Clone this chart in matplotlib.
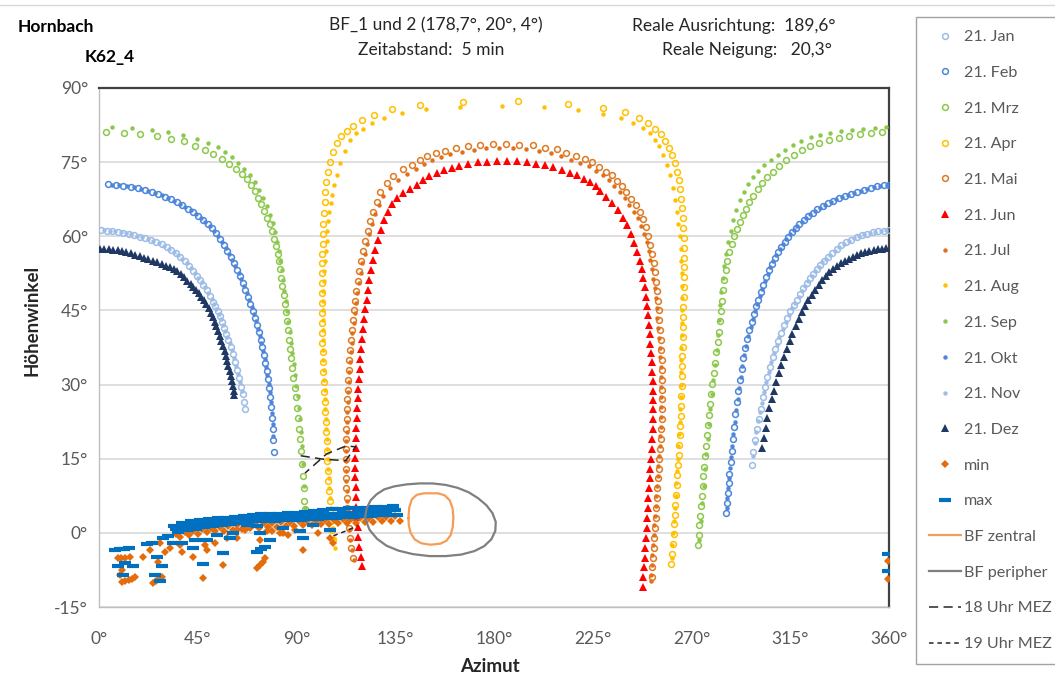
import matplotlib.pyplot as plt
from matplotlib.lines import Line2D
import numpy as np

plt.rcParams['font.family'] = ['Lato', 'DejaVu Sans']

# ---- sun path points (azimut, hoehenwinkel) ----
jan = [(1, 61.2), (3.5, 61.1), (6, 61.0), (8.5, 60.9), (11, 60.7), (13.5, 60.5), (16, 60.2), (18.5, 59.9),
       (21, 59.6), (23.5, 59.2), (26, 58.8), (28.5, 58.4), (31, 57.8), (33, 57.2), (35, 56.6), (37, 55.8),
       (39, 55.0), (41, 54.0), (43, 52.9), (44.5, 52.0), (46, 51.1), (47.5, 50.2), (49, 49.1), (50.5, 48.0),
       (52, 46.7), (53, 45.8), (54, 44.8), (55, 43.8), (56, 42.7), (57, 41.5), (58, 40.3), (59, 39.0),
       (60, 37.7), (61, 36.2), (62, 34.6), (63, 33.0), (64, 31.3), (64.8, 29.6), (65.5, 28.0), (66.2, 26.4),
       (66.7, 25.0),
       (297.4, 13.8), (298.2, 16.3), (299, 18.8), (299.8, 21.0), (300.6, 23.1), (301.5, 25.1), (302.5, 27.4),
       (303.5, 29.5), (304.6, 31.6), (305.8, 33.6), (307, 35.5), (308.2, 37.2), (309.5, 38.9), (310.8, 40.5),
       (312.2, 42.0), (313.6, 43.4), (315, 44.8), (316.5, 46.0), (318, 47.2), (319.5, 48.4), (321, 49.5),
       (322.5, 50.5), (324, 51.5), (325.5, 52.4), (327, 53.3), (328.7, 54.2), (330.5, 55.1), (332.3, 55.9),
       (334.2, 56.7), (336.2, 57.5), (338.3, 58.2), (340.5, 58.8), (342.8, 59.3), (345.2, 59.8), (347.6, 60.2),
       (350, 60.5), (352.5, 60.8), (355, 61.0), (357.5, 61.1), (360, 61.2)]

feb = [(4.2, 70.5), (7.6, 70.4), (11, 70.2), (14.4, 70.0), (17.7, 69.7), (20.9, 69.4), (24, 69.0), (27, 68.5),
       (29.9, 68.0), (32.7, 67.5), (35.4, 66.9), (38, 66.3), (40.5, 65.6), (42.9, 64.9), (45.2, 64.1),
       (47.4, 63.3), (49.5, 62.5), (51.5, 61.6), (53.4, 60.6), (55.2, 59.5), (56.9, 58.3), (58.5, 57.1),
       (60, 55.8), (61.5, 54.5), (62.9, 53.2), (64.2, 51.9), (65.5, 50.6), (66.7, 49.2), (67.9, 47.8),
       (69, 46.3), (70, 44.9), (71, 43.5), (71.9, 42.1), (72.8, 40.6), (73.6, 39.1), (74.4, 37.6), (75.1, 36.0),
       (75.8, 34.4), (76.4, 32.8), (77, 31.1), (77.5, 29.4), (78, 27.5), (78.4, 25.4), (78.8, 23.2),
       (79.1, 21.0), (79.4, 18.7), (79.7, 16.3),
       (285.7, 4.0), (286.1, 6.0), (286.5, 8.0), (286.9, 10.0), (287.3, 12.0), (287.8, 14.3), (288.3, 16.6),
       (288.8, 19.0), (289.4, 21.5), (290, 24.0), (290.6, 26.5), (291.3, 28.8), (292, 31.0), (292.8, 33.2),
       (293.6, 35.3), (294.5, 37.3), (295.4, 39.2), (296.4, 41.0), (297.4, 42.7), (298.4, 44.3), (299.4, 45.8),
       (300.5, 47.2), (301.6, 48.7), (302.8, 50.2), (304, 51.7), (305.3, 53.1), (306.6, 54.4), (308, 55.7),
       (309.4, 56.8), (310.9, 57.9), (312.4, 58.9), (314, 59.9), (315.7, 60.8), (317.4, 61.7), (319.2, 62.5),
       (321.1, 63.3), (323.1, 64.1), (325.2, 64.8), (327.4, 65.5), (329.7, 66.1), (332.1, 66.7), (334.6, 67.2),
       (337.2, 67.7), (339.9, 68.2), (342.7, 68.6), (345.6, 69.0), (348.6, 69.4), (351.6, 69.8), (354.6, 70.1),
       (357.6, 70.3), (360, 70.4)]

mrz = [(3.2, 81.0), (11.4, 80.9), (18.7, 80.7), (26.3, 80.3), (32.7, 79.7), (38.7, 79.2), (43.7, 78.3),
       (48.3, 77.5), (52.1, 76.7), (55.9, 75.6), (59.4, 74.7), (62.4, 73.6), (65, 72.6), (67.3, 71.5),
       (69.2, 70.3), (70.9, 69.1), (72.5, 67.8), (74, 66.5), (75.4, 65.2), (76.7, 63.8), (77.9, 62.4),
       (79, 61.0), (79.9, 59.5), (80.7, 58.0), (81.4, 56.5), (82, 55.0), (82.6, 53.3), (83.1, 51.6),
       (83.6, 49.9), (84.1, 48.2), (84.6, 46.4), (85.1, 44.6), (85.6, 42.8), (86.1, 41.0), (86.6, 39.1),
       (87.1, 37.2), (87.6, 35.3), (88.1, 33.4), (88.6, 31.4), (89.1, 29.4), (89.6, 27.4), (90.1, 25.3),
       (90.6, 23.2), (91.1, 21.1), (91.6, 19.0), (92, 16.5), (92.4, 14.0), (92.8, 11.5), (93.2, 9.0),
       (93.6, 6.5), (93.9, 4.8),
       (272.8, -2.4), (273.2, -0.5), (273.6, 1.5), (274.0, 3.5), (274.4, 5.5), (274.8, 7.5), (275.1, 9.5),
       (275.4, 11.5), (275.7, 13.4), (276.1, 15.5), (276.5, 17.6), (276.9, 19.7), (277.4, 21.8), (277.9, 23.9),
       (278.4, 26.0), (278.9, 28.1), (279.5, 30.2), (280.1, 32.3), (280.7, 34.4), (281.3, 36.5), (281.9, 38.6),
       (282.4, 40.7), (282.9, 42.8), (283.4, 44.9), (283.8, 47.0), (284.3, 49.2), (284.9, 51.2), (285.6, 53.2),
       (286.4, 55.0), (287.3, 56.8), (288.3, 58.4), (289.4, 60.0), (290.6, 61.5), (291.9, 62.9), (293.3, 64.3),
       (294.8, 65.6), (296.4, 66.9), (298.2, 68.2), (300.2, 69.5), (302.3, 70.7), (304.6, 71.9), (307.2, 73.1),
       (310, 74.3), (313.1, 75.4), (316.5, 76.5), (320.2, 77.5), (324.1, 78.3), (328.2, 78.9), (332.6, 79.4),
       (337.2, 79.8), (342, 80.2), (347, 80.6), (352, 80.9), (357, 81.1)]

apr = [(106.6, -1.5), (106.2, 0.5), (105.8, 2.5), (105.4, 4.5), (105.1, 6.5), (104.8, 8.5), (104.5, 10.5),
       (104.3, 12.5), (104.1, 14.5), (103.9, 16.5), (103.7, 18.5), (103.5, 20.5), (103.3, 22.5), (103.1, 24.5),
       (102.9, 26.5), (102.7, 28.5), (102.5, 30.5), (102.3, 32.5), (102.1, 34.5), (101.9, 36.5), (101.8, 38.5),
       (101.7, 40.5), (101.6, 42.5), (101.5, 44.5), (101.5, 46.5), (101.5, 48.5), (101.5, 50.5), (101.6, 52.5),
       (101.7, 54.5), (101.8, 56.5), (101.9, 58.5), (102.1, 60.5), (102.3, 62.5), (102.6, 64.8), (102.8, 67.0),
       (103.0, 69.0), (103.5, 71.0), (104.2, 73.0), (105.2, 75.0), (106.6, 77.0), (108.4, 78.8), (110.5, 80.2),
       (112.9, 81.3), (115.9, 82.4), (119.7, 83.6), (125.3, 84.6), (133.7, 85.7), (146.3, 86.6), (165.7, 87.1),
       (191.1, 87.3), (213.9, 86.8), (229.8, 86.0), (239.7, 85.1), (246.1, 84.0), (250.3, 82.9), (253.4, 81.8),
       (256.0, 80.6), (258.1, 79.3), (259.8, 77.9), (261.2, 76.4), (262.4, 74.8), (263.4, 73.1), (264.2, 71.3),
       (264.8, 69.5), (265.3, 67.6), (265.7, 65.7), (266.0, 63.7), (266.2, 61.7), (266.4, 59.7), (266.5, 57.7),
       (266.6, 55.7), (266.6, 53.7), (266.6, 51.7), (266.5, 49.7), (266.4, 47.7), (266.3, 45.7), (266.2, 43.7),
       (266.1, 41.7), (266.0, 39.7), (265.9, 37.7), (265.8, 35.7), (265.7, 33.7), (265.6, 31.7), (265.5, 29.7),
       (265.4, 27.7), (265.3, 25.7), (265.1, 23.7), (264.9, 21.7), (264.7, 19.7), (264.5, 17.7), (264.2, 15.7),
       (263.9, 13.7), (263.6, 11.7), (263.3, 9.7), (263.0, 7.7), (262.7, 5.7), (262.4, 3.7), (262.1, 1.7),
       (261.8, -0.3), (261.4, -2.3), (261.0, -4.3), (260.6, -6.3)]

mai = [(115.6, -5.0), (115.0, -3.0), (114.4, -1.0), (113.9, 1.0), (113.5, 3.0), (113.2, 5.0), (112.9, 7.0),
       (112.7, 9.0), (112.6, 11.0), (112.5, 13.0), (112.5, 15.0), (112.5, 17.0), (112.6, 19.0), (112.7, 21.0),
       (112.8, 23.0), (112.9, 25.0), (113.1, 27.0), (113.3, 29.0), (113.5, 31.0), (113.8, 33.0), (114.1, 35.0),
       (114.4, 37.0), (114.8, 39.0), (115.2, 41.0), (115.6, 43.0), (116.1, 45.0), (116.7, 47.0), (117.3, 49.0),
       (118.0, 51.0), (118.7, 53.0), (119.5, 55.0), (120.4, 57.0), (121.4, 59.0), (122.5, 61.0), (123.7, 63.0),
       (125.0, 65.0), (126.5, 67.0), (128, 68.9), (131.1, 70.7), (134.1, 72.1), (138.7, 73.6), (142.5, 74.4),
       (146.3, 75.5), (149.6, 76.3), (153.6, 76.8), (157.7, 77.3), (162.7, 77.9), (168, 78.2), (173.6, 78.5),
       (179.4, 78.7), (185.3, 78.7), (191.5, 78.5), (197.6, 78.5), (203.2, 77.9), (208.6, 77.6), (212.8, 76.8),
       (217.4, 76.3), (221.5, 75.7), (224.8, 75.1), (228, 74.1), (231, 73.1), (233.6, 72.3), (235.9, 71.1),
       (238.2, 70.1), (240.2, 68.9), (242.6, 67.6), (244.7, 66.3), (246.5, 64.9), (248.0, 63.4), (249.3, 61.8),
       (250.4, 60.1), (251.3, 58.3), (252.0, 56.5), (252.7, 54.6), (253.3, 52.7), (253.8, 50.8), (254.3, 48.9),
       (254.7, 47.0), (255.1, 45.0), (255.4, 43.0), (255.7, 41.0), (256.0, 39.0), (256.2, 37.0), (256.4, 35.0),
       (256.5, 33.0), (256.6, 31.0), (256.6, 29.0), (256.6, 27.0), (256.5, 25.0), (256.4, 23.0), (256.2, 21.0),
       (256.0, 19.0), (255.7, 17.0), (255.4, 15.0), (255.1, 13.0), (254.8, 11.0), (254.5, 9.0), (254.2, 7.0),
       (253.9, 5.0), (253.6, 3.0), (253.3, 1.0), (253.0, -1.0), (252.7, -3.0), (252.4, -5.0), (252.1, -7.0),
       (251.8, -9.0)]

jun = [(119.7, -6.8), (119.2, -4.8), (118.7, -2.8), (118.2, -0.8), (117.8, 1.2), (117.5, 3.2), (117.2, 5.2),
       (117.0, 7.2), (116.9, 9.2), (116.8, 11.2), (116.8, 13.2), (116.8, 15.2), (116.9, 17.2), (117.0, 19.2),
       (117.2, 21.2), (117.4, 23.2), (117.6, 25.2), (117.9, 27.2), (118.2, 29.2), (118.5, 31.2), (118.8, 33.2),
       (119.1, 35.2), (119.5, 37.2), (119.9, 39.2), (120.3, 41.2), (120.8, 43.2), (121.3, 45.2), (121.9, 47.2),
       (122.5, 49.2), (123.2, 51.2), (124.0, 53.2), (124.9, 55.2), (125.9, 57.2), (127.0, 59.2), (128.3, 61.2),
       (129.8, 63.2), (131.5, 65.0), (133.4, 66.6), (135.8, 67.8), (138.7, 68.7), (141.7, 69.6), (144.8, 70.4),
       (147.5, 71.3), (150.5, 72.1), (153.9, 72.8), (157.2, 73.4), (160.7, 73.9), (164.2, 74.3), (168.3, 74.6),
       (172.6, 75.0), (177.0, 75.1), (181.5, 75.3), (186.1, 75.3), (190.3, 75.3), (194.9, 75.0), (199.1, 74.7),
       (203.2, 74.4), (207.0, 74.0), (210.8, 73.4), (214.6, 72.9), (217.7, 72.3), (221.0, 71.6), (223.7, 70.9),
       (226.5, 70.1), (228.3, 69.2), (231.2, 68.0), (233.9, 66.7), (236.4, 65.3), (238.7, 63.8), (240.7, 62.2),
       (242.5, 60.5), (244.0, 58.7), (245.3, 56.9), (246.4, 55.1), (247.3, 53.3), (248.0, 51.5), (248.6, 49.7),
       (249.2, 47.8), (249.7, 45.9), (250.2, 44.0), (250.6, 42.1), (251.0, 40.2), (251.3, 38.3), (251.6, 36.4),
       (251.9, 34.5), (252.1, 32.6), (252.3, 30.7), (252.4, 28.8), (252.5, 26.9), (252.5, 25.0), (252.4, 23.0),
       (252.3, 21.0), (252.1, 19.0), (251.9, 17.0), (251.6, 15.0), (251.3, 13.0), (251.0, 11.0), (250.7, 9.0),
       (250.4, 7.0), (250.1, 5.0), (249.8, 3.0), (249.5, 1.0), (249.2, -1.0), (248.9, -3.0), (248.6, -5.0),
       (248.3, -7.0), (248.0, -9.0), (247.8, -10.9)]

jul = [(116.0, -5.5), (115.2, -3.5), (114.6, -1.5), (114.1, 0.5), (113.6, 2.5), (113.3, 4.5), (113.0, 6.5),
       (112.8, 8.5), (112.7, 10.5), (112.6, 12.5), (112.6, 14.5), (112.6, 16.5), (112.7, 18.5), (112.8, 20.5),
       (112.9, 22.5), (113.1, 24.5), (113.3, 26.5), (113.5, 28.5), (113.8, 30.5), (114.1, 32.5), (114.4, 34.5),
       (114.7, 36.5), (115.1, 38.5), (115.5, 40.5), (116.0, 42.5), (116.5, 44.5), (117.1, 46.5), (117.7, 48.5),
       (118.4, 50.5), (119.2, 52.5), (120.0, 54.5), (121.0, 56.5), (122.0, 58.5), (123.1, 60.5), (124.4, 62.5),
       (125.8, 64.5), (127.4, 66.4), (129.5, 68.2), (132.4, 69.8), (136.2, 71.4), (140.5, 72.6), (144.4, 73.6),
       (148.1, 74.6), (151.8, 75.4), (155.7, 76.0), (160.1, 76.6), (165.2, 77.1), (170.7, 77.5), (176.5, 77.8),
       (182.4, 77.9), (188.5, 77.9), (194.5, 77.7), (200.4, 77.3), (205.8, 76.8), (210.7, 76.2), (215.1, 75.5),
       (219.4, 74.9), (223.2, 74.2), (226.4, 73.3), (229.5, 72.3), (232.3, 71.3), (234.8, 70.2), (237.2, 69.0),
       (239.5, 67.7), (241.7, 66.4), (243.8, 65.0), (245.6, 63.6), (247.2, 62.1), (248.5, 60.5), (249.6, 58.8),
       (250.5, 57.0), (251.3, 55.2), (252.0, 53.3), (252.6, 51.4), (253.2, 49.5), (253.7, 47.5), (254.1, 45.5),
       (254.5, 43.5), (254.9, 41.5), (255.2, 39.5), (255.5, 37.5), (255.7, 35.5), (255.9, 33.5), (256.0, 31.5),
       (256.1, 29.5), (256.1, 27.5), (256.1, 25.5), (256.0, 23.5), (255.9, 21.5), (255.7, 19.5), (255.5, 17.5),
       (255.2, 15.5), (254.9, 13.5), (254.6, 11.5), (254.3, 9.5), (254.0, 7.5), (253.7, 5.5), (253.4, 3.5),
       (253.1, 1.5), (252.8, -0.5), (252.5, -2.5), (252.2, -4.5), (251.9, -6.5), (251.6, -8.5), (251.4, -9.8)]

aug = [(107.5, -3.0), (107.0, -1.0), (106.5, 1.0), (106.0, 3.0), (105.6, 5.0), (105.2, 7.0), (104.9, 9.0),
       (104.6, 11.0), (104.4, 13.0), (104.2, 15.0), (104.0, 17.0), (103.8, 19.0), (103.6, 21.0), (103.4, 23.0),
       (103.2, 25.0), (103.0, 27.0), (102.8, 29.0), (102.6, 31.0), (102.4, 33.0), (102.3, 35.0), (102.2, 37.0),
       (102.1, 39.0), (102.1, 41.0), (102.1, 43.0), (102.1, 45.0), (102.2, 47.0), (102.3, 49.0), (102.5, 51.0),
       (102.7, 53.0), (103.0, 55.0), (103.3, 57.0), (103.7, 59.0), (104.1, 61.0), (104.5, 63.0), (105.0, 65.0),
       (105.5, 66.7), (106.0, 68.4), (107.1, 70.4), (108.3, 72.4), (109.8, 74.8), (111.9, 77.2), (114.4, 79.5),
       (117.3, 80.8), (120.4, 81.7), (124.5, 82.9), (130.0, 83.9), (137.9, 84.9), (149.0, 85.7), (164.5, 86.2),
       (183.5, 86.4), (202.8, 86.2), (218.4, 85.6), (229.5, 84.8), (237.7, 83.9), (243.5, 82.9), (247.8, 81.9),
       (251.1, 80.9), (253.4, 79.5), (255.3, 78.2), (257.2, 76.5), (258.7, 74.4), (260.2, 72.4), (261.4, 69.7),
       (262.4, 67.4), (263.3, 65.0), (264.0, 62.5), (264.6, 60.0), (265.1, 57.5), (265.4, 55.0), (265.6, 52.5),
       (265.7, 50.0), (265.7, 47.5), (265.7, 45.0), (265.6, 42.5), (265.5, 40.0), (265.4, 37.5), (265.3, 35.0),
       (265.2, 32.5), (265.1, 30.0), (265.0, 27.5), (264.8, 25.0), (264.6, 22.5), (264.3, 20.0), (264.0, 17.5),
       (263.7, 15.0), (263.4, 12.5), (263.1, 10.0), (262.8, 7.5), (262.5, 5.0), (262.1, 2.5), (261.7, 0.0),
       (261.3, -2.5), (260.9, -5.0)]

sep = [(6.1, 82.1), (15.2, 81.9), (24, 81.5), (31.3, 81.0), (38.4, 80.4), (44.5, 79.6), (49.8, 78.8),
       (54, 78.0), (57.4, 77.1), (60.6, 76.1), (63.5, 74.9), (66.2, 73.7), (68.8, 72.4), (71, 70.9),
       (73.1, 69.4), (74.9, 67.8), (76.5, 66.1), (77.9, 64.4), (79.2, 62.6), (80.3, 60.8), (81.2, 58.9),
       (82, 57.0), (82.7, 55.1), (83.3, 53.1), (83.9, 51.1), (84.5, 49.0), (85.1, 46.9), (85.7, 44.8),
       (86.3, 42.7), (86.9, 40.6), (87.5, 38.5), (88.1, 36.4), (88.7, 34.2), (89.3, 32.0), (89.9, 29.8),
       (90.5, 27.6), (91.1, 25.3), (91.6, 23.0), (92.1, 20.5), (92.6, 17.5), (93.1, 14.0), (93.6, 9.5),
       (94, 5.0),
       (273.5, -1.5), (274.2, 2.5), (274.9, 6.0), (275.5, 9.5), (276.1, 13.0), (276.7, 16.0), (277.3, 19.0),
       (277.9, 22.0), (278.6, 25.0), (279.3, 28.0), (280, 31.0), (280.7, 34.0), (281.4, 37.0), (282, 40.0),
       (282.6, 43.0), (283.1, 46.0), (283.6, 48.8), (284.2, 51.5), (284.9, 54.0), (285.7, 56.5), (286.7, 58.8),
       (287.8, 61.0), (289.1, 63.2), (290.5, 65.3), (292.1, 67.4), (293.9, 69.0), (295.9, 70.5), (298.1, 71.9),
       (300.5, 73.2), (303.2, 74.4), (306.1, 75.5), (309.2, 76.5), (312.6, 77.5), (316.2, 78.4), (320.1, 79.3),
       (324.3, 80.0), (328.7, 80.5), (333.3, 80.9), (338.1, 81.3), (343.1, 81.6), (348.2, 81.8), (353.4, 82.0),
       (358.6, 82.2)]

okt = [(5.9, 70.4), (9.3, 70.3), (12.7, 70.1), (16, 69.9), (19.3, 69.6), (22.5, 69.2), (25.5, 68.8),
       (28.5, 68.3), (31.3, 67.8), (34.1, 67.2), (36.7, 66.6), (39.3, 66.0), (41.7, 65.3), (44.1, 64.5),
       (46.3, 63.7), (48.5, 62.9), (50.5, 62.1), (52.5, 61.1), (54.3, 60.1), (56, 58.9), (57.7, 57.7),
       (59.3, 56.5), (60.8, 55.2), (62.2, 53.9), (63.6, 52.6), (64.9, 51.3), (66.1, 49.9), (67.3, 48.5),
       (68.5, 47.1), (69.5, 45.6), (70.5, 44.2), (71.5, 42.8), (72.4, 41.3), (73.2, 39.9), (74, 38.4),
       (74.8, 36.8), (75.5, 35.2), (76.1, 33.6), (76.7, 32.0), (77.3, 30.2), (77.8, 28.4), (78.3, 26.4),
       (78.7, 24.3), (79.1, 22.0), (79.5, 19.5),
       (286, 5.0), (286.3, 7.0), (286.7, 9.0), (287.1, 11.0), (287.6, 13.1), (288.1, 15.3), (288.6, 17.6),
       (289.1, 19.9), (289.7, 22.4), (290.3, 24.8), (291, 27.1), (291.7, 29.4), (292.4, 31.6), (293.2, 33.8),
       (294.1, 35.9), (295, 37.9), (295.9, 39.8), (296.9, 41.6), (297.9, 43.3), (298.9, 44.9), (300, 46.4),
       (301.1, 47.9), (302.2, 49.4), (303.4, 50.9), (304.7, 52.4), (306, 53.8), (307.3, 55.1), (308.7, 56.3),
       (310.2, 57.4), (311.7, 58.4), (313.2, 59.4), (314.9, 60.4), (316.6, 61.3), (318.3, 62.1), (320.2, 62.9),
       (322.1, 63.7), (324.2, 64.5), (326.3, 65.2), (328.6, 65.8), (330.9, 66.4), (333.4, 66.9), (335.9, 67.5),
       (338.6, 67.9), (341.3, 68.4), (344.2, 68.8), (347.1, 69.2), (350.1, 69.6), (353.1, 70.0), (356.1, 70.2),
       (359.1, 70.4)]

nov = [(2.2, 61.2), (4.8, 61.1), (7.3, 61.0), (9.8, 60.8), (12.3, 60.6), (14.8, 60.4), (17.3, 60.1),
       (19.8, 59.8), (22.3, 59.4), (24.8, 59.0), (27.3, 58.6), (29.8, 58.1), (32, 57.5), (34, 56.9), (36, 56.2),
       (38, 55.4), (40, 54.5), (42, 53.5), (43.8, 52.5), (45.3, 51.6), (46.8, 50.7), (48.3, 49.7), (49.8, 48.6),
       (51.3, 47.4), (52.5, 46.3), (53.5, 45.3), (54.5, 44.3), (55.5, 43.3), (56.5, 42.1), (57.5, 40.9),
       (58.5, 39.7), (59.5, 38.4), (60.5, 37.0), (61.5, 35.4), (62.5, 33.8), (63.5, 32.2), (64.4, 30.5),
       (65.2, 28.8),
       (298, 15.6), (298.8, 18.1), (299.6, 20.4), (300.4, 22.6), (301.2, 24.5), (302, 26.3), (303, 28.5),
       (304, 30.5), (305.2, 32.6), (306.4, 34.6), (307.6, 36.4), (308.8, 38.1), (310.1, 39.7), (311.5, 41.3),
       (312.9, 42.7), (314.3, 44.1), (315.8, 45.4), (317.3, 46.6), (318.8, 47.8), (320.3, 49.0), (321.8, 50.0),
       (323.3, 51.0), (324.8, 52.0), (326.3, 52.9), (327.9, 53.8), (329.6, 54.7), (331.4, 55.5), (333.3, 56.3),
       (335.2, 57.1), (337.3, 57.9), (339.4, 58.5), (341.7, 59.1), (344, 59.6), (346.4, 60.0), (348.8, 60.4),
       (351.3, 60.7), (353.8, 60.9), (356.3, 61.0), (358.8, 61.2)]

dez = [(0.5, 57.5), (2.5, 57.5), (4.5, 57.4), (6.5, 57.3), (8.5, 57.2), (10.5, 57.0), (12.5, 56.8),
       (14.5, 56.6), (16.5, 56.3), (18.5, 56.0), (20.5, 55.7), (22.5, 55.4), (24.5, 55.0), (26.5, 54.7),
       (28.5, 54.3), (30.5, 54.0), (32.3, 53.7), (34, 53.4), (35.7, 52.9), (37.3, 52.3), (38.8, 51.7),
       (40.3, 51.0), (41.7, 50.4), (43, 49.8), (44.3, 49.2), (45.5, 48.5), (46.7, 47.8), (47.8, 47.1),
       (48.9, 46.3), (49.9, 45.4), (50.9, 44.5), (51.8, 43.6), (52.7, 42.7), (53.5, 41.8), (54.3, 40.8),
       (55.1, 39.8), (55.8, 38.8), (56.5, 37.8), (57.2, 36.8), (57.8, 35.8), (58.4, 34.8), (59, 33.7),
       (59.5, 32.7), (60, 31.7), (60.5, 30.7), (60.9, 29.7), (61.3, 28.7), (61.6, 27.9),
       (302.3, 17.1), (303, 19.2), (303.8, 21.3), (304.6, 23.3), (305.5, 25.2), (306.5, 27.0), (307.5, 28.8),
       (308.6, 30.6), (309.7, 32.3), (310.9, 34.0), (312.1, 35.6), (313.4, 37.2), (314.7, 38.8), (316, 40.3),
       (317.4, 41.8), (318.8, 43.2), (320.3, 44.6), (321.8, 45.9), (323.3, 47.1), (324.8, 48.2), (326.3, 49.2),
       (327.9, 50.2), (329.5, 51.1), (331.1, 51.9), (332.8, 52.7), (334.5, 53.4), (336.2, 54.0), (338, 54.6),
       (339.8, 55.1), (341.6, 55.5), (343.5, 55.9), (345.4, 56.3), (347.3, 56.6), (349.2, 56.9), (351.1, 57.1),
       (353, 57.3), (354.9, 57.4), (356.8, 57.5), (358.7, 57.6)]

# ---- horizon: min / max points ----
min_pts = [(35, -0.3), (39, 0.1), (43, 0.4), (47, 0.7), (51, 1.0), (55, 1.2), (59, 1.4), (63, 1.5), (67, 1.7),
           (71, 1.8), (75, 1.9), (79, 2.0), (83, 2.1), (87, 2.2), (91, 2.3), (95, 2.4), (99, 2.5), (103, 2.6),
           (107, 2.7), (111, 2.8), (115, 2.9), (119, 3.0), (123, 3.1), (127, 3.2), (131, 3.3), (135, 3.4),
           (37, -0.9), (41, -0.5), (45, -0.2), (49, 0.1), (53, 0.3), (57, 0.4), (61, 0.6), (65, 0.8), (69, 0.9),
           (73, 1.0), (77, 1.1), (81, 1.2), (85, 1.3), (89, 1.4), (93, 1.5), (97, 1.6), (101, 1.7), (105, 1.8),
           (109, 1.9), (113, 2.0), (117, 2.0), (121, 2.1), (125, 2.2), (129, 2.3), (133, 2.3), (137, 2.4),
           (8.5, -5.0), (10.0, -5.1), (11.8, -5.1), (14.1, -4.8), (10.3, -7.5), (9.6, -8.5), (10.5, -9.9),
           (12.0, -9.7), (13.5, -9.6), (15.0, -9.3), (16.5, -9.0), (20.2, -4.8), (23.2, -3.4), (24.7, -10.2),
           (26.0, -9.8), (27.3, -9.4), (28.6, -8.9), (27.0, -5.8), (27.8, -2.1), (30.1, -3.8), (32.4, -3.1),
           (36.9, -2.4), (37.7, -3.8), (43.0, -4.8), (48.3, -2.4), (49.1, -3.4), (47.5, -9.2), (52.9, -2.1),
           (56.6, -6.5), (58.2, -1.1), (62.7, -1.1), (62.7, 0.6), (66.5, 0.6), (71.9, -7.1), (73.4, -6.5),
           (74.9, -5.8), (75.6, -5.1), (73.4, -1.4), (76.4, 0.3), (78.7, 0.3), (82.5, -0.1), (84.0, -0.1),
           (86.3, -0.4), (89.3, 0.6), (93.1, -3.4), (99.9, -0.1), (105.3, -1.1), (106.8, -2.1),
           (359.5, -5.6), (359.5, -9.3)]

max_pts = [(34, 1.3), (38, 2.0), (42, 2.3), (46, 2.6), (50, 2.8), (54, 3.0), (58, 3.1), (62, 3.3), (66, 3.5),
           (70, 3.6), (74, 3.8), (78, 3.9), (82, 3.9), (86, 4.0), (90, 4.1), (94, 4.2), (98, 4.4), (102, 4.7),
           (106, 4.8), (110, 4.9), (114, 5.0), (118, 5.0), (122, 5.1), (126, 5.2), (130, 5.3), (134, 5.4),
           (35, 0.7), (39, 1.2), (43, 1.6), (47, 1.9), (51, 2.1), (55, 2.3), (59, 2.5), (63, 2.6), (67, 2.8),
           (71, 2.9), (75, 3.0), (79, 3.1), (83, 3.2), (87, 3.3), (91, 3.4), (95, 3.5), (99, 3.6), (103, 3.8),
           (107, 3.9), (111, 4.0), (115, 4.1), (119, 4.2), (123, 4.3), (127, 4.4), (131, 4.5), (135, 4.6),
           (36, 0.2), (40, 0.5), (44, 0.8), (48, 1.1), (52, 1.4), (56, 1.6), (60, 1.8), (64, 2.0), (68, 2.1),
           (72, 2.3), (76, 2.4), (80, 2.5), (84, 2.6), (88, 2.6), (92, 2.7), (96, 2.8), (100, 2.9), (104, 3.0),
           (108, 3.1), (112, 3.2), (116, 3.3), (120, 3.4), (124, 3.5), (128, 3.6), (132, 3.6), (136, 3.7),
           (7.5, -3.4), (9.5, -3.3), (11.5, -3.2), (13.5, -3.1), (8.8, -6.8), (11.8, -6.1), (15.6, -6.8),
           (11.1, -8.5), (21.7, -2.3), (24.0, -2.1), (26.3, -4.8), (25.5, -8.5), (28.6, -6.8), (27.8, -9.7),
           (29.3, -1.1), (31.6, -0.7), (33.9, -2.1), (37.7, -2.1), (43.7, -1.4), (43.0, -3.1), (47.5, -6.3),
           (49.1, -1.4), (53.6, -0.4), (56.6, -4.1), (59.7, -1.1), (61.2, -0.1), (67.3, 1.6), (71.9, 1.3),
           (71.9, -3.8), (73.7, -3.3), (75.6, -2.8), (73.4, -0.1), (77.9, -1.4), (84.0, 1.0), (91.6, 0.3),
           (93.1, -1.0), (97.7, 1.6), (105.3, 0.6), (359.5, -4.2), (359.5, -7.7)]

# ---- BF outlines ----
bf_zentral = [(141.0, 3.0), (141.4, 5.2), (142.6, 6.8), (144.8, 7.7), (148.0, 8.0), (151.0, 8.0), (154.5, 8.0),
              (157.5, 7.6), (159.8, 6.6), (161.1, 5.0), (161.5, 3.2), (161.2, 1.2), (160.2, -0.5), (158.3, -1.6),
              (155.5, -2.2), (151.0, -2.4), (146.8, -2.1), (143.8, -1.3), (142.0, 0.0), (141.2, 1.5), (141.0, 3.0)]
bf_peripher = [(121.2, 3.0), (122.0, 5.0), (123.8, 6.6), (126.5, 7.8), (130.0, 8.8), (134.5, 9.4), (140.0, 9.8),
               (146.0, 10.0), (152.0, 10.0), (158.0, 9.7), (163.5, 9.1), (168.5, 8.2), (172.8, 7.0), (176.5, 5.6),
               (179.3, 4.0), (180.8, 2.2), (180.6, 0.4), (178.8, -1.3), (175.5, -2.7), (171.0, -3.7),
               (165.0, -4.4), (158.0, -4.7), (150.5, -4.7), (143.0, -4.3), (136.5, -3.6), (131.0, -2.6),
               (126.7, -1.2), (123.3, 0.6), (121.2, 3.0)]

uhr18 = [(91.9, 15.6), (102.2, 14.9), (112.4, 14.6), (116.9, 17.4), (112.7, 17.6), (103.8, 16.0), (93.9, 12.1)]
uhr19 = [(106.8, -0.6), (113.8, 0.6), (117.9, 1.5)]

xticks = [0, 45, 90, 135, 180, 225, 270, 315, 360]
yticks = [-15, 0, 15, 30, 45, 60, 75, 90]


def xy(pts):
    a = np.array(pts, dtype=float)
    return a[:, 0], a[:, 1]


W, H = 1055, 686
fig = plt.figure(figsize=(W / 100, H / 100), dpi=100)
ax = fig.add_axes([99 / W, 1 - 607 / H, 790 / W, 519 / H])

ring = dict(ls='none', marker='o', ms=4.2, mfc='none', mew=1.1)
dot = dict(ls='none', marker='o', ms=3.2, mew=0)
tri = dict(ls='none', marker='^', ms=5.2, mew=0)

series = [
    (jan, '21. Jan', '#9dbde6', ring),
    (feb, '21. Feb', '#4d86da', ring),
    (mrz, '21. Mrz', '#8cc84b', ring),
    (apr, '21. Apr', '#ffc000', ring),
    (mai, '21. Mai', '#dd7a26', ring),
    (jun, '21. Jun', '#ff0000', tri),
    (jul, '21. Jul', '#e2701a', dot),
    (aug, '21. Aug', '#ffc000', dot),
    (sep, '21. Sep', '#8cc84b', dot),
    (okt, '21. Okt', '#4d86da', dot),
    (nov, '21. Nov', '#9dbde6', dot),
    (dez, '21. Dez', '#1f3864', tri),
]

handles = []
for i, (pts, lab, col, st) in enumerate(series):
    x, y = xy(pts)
    if st is ring:
        (h,) = ax.plot(x, y, mec=col, label=lab, zorder=3 + i * 0.01, **st)
    else:
        (h,) = ax.plot(x, y, color=col, label=lab, zorder=3 + i * 0.01, **st)
    handles.append(h)

x, y = xy(min_pts)
(h,) = ax.plot(x, y, ls='none', marker='D', ms=4.3, mew=0, color='#e46c0a', label='min', zorder=4)
handles.append(h)
x, y = xy(max_pts)
(h,) = ax.plot(x, y, ls='none', marker='_', ms=8.5, mew=3.0, color='#0070c0', label='max', zorder=4.1)
handles.append(h)

x, y = xy(bf_zentral)
(h,) = ax.plot(x, y, color='#f59d56', lw=1.6, label='BF zentral', zorder=5)
handles.append(h)
x, y = xy(bf_peripher)
(h,) = ax.plot(x, y, color='#7f7f7f', lw=1.6, label='BF peripher', zorder=5)
handles.append(h)
x, y = xy(uhr18)
(h,) = ax.plot(x, y, color='#262626', lw=1.1, ls=(0, (6, 3.5)), label='18 Uhr MEZ', zorder=5)
handles.append(h)
x, y = xy(uhr19)
(h,) = ax.plot(x, y, color='#262626', lw=1.1, ls=(0, (3, 2.5)), label='19 Uhr MEZ', zorder=5)
handles.append(h)

ax.set_xlim(0, 360)
ax.set_ylim(-15, 90)
ax.set_xticks(xticks)
ax.set_xticklabels([f'{v}°' for v in xticks])
ax.set_yticks(yticks)
ax.set_yticklabels([f'{v}°' for v in yticks])
ax.tick_params(length=0, labelsize=12.5, colors='#595959')
ax.tick_params(axis='x', pad=17)
ax.tick_params(axis='y', pad=8)
ax.yaxis.grid(True, color='#d9d9d9', lw=1.2)
ax.set_axisbelow(True)
for s in ['top', 'right']:
    ax.spines[s].set_color('#404040')
    ax.spines[s].set_linewidth(1.6)
for s in ['left', 'bottom']:
    ax.spines[s].set_color('#bfbfbf')
    ax.spines[s].set_linewidth(1.0)

fig.text(490 / W, 1 - 666 / H, 'Azimut', ha='center', va='center', fontsize=13.5, fontweight='bold',
         color='#262626')
fig.text(32 / W, 1 - 320 / H, 'Höhenwinkel', ha='center', va='center', rotation=90, fontsize=13.5,
         fontweight='bold', color='#262626')

fig.text(18 / W, 1 - 27 / H, 'Hornbach', ha='left', va='center', fontsize=12.5, fontweight='bold',
         color='#000000')
fig.text(85 / W, 1 - 57 / H, 'K62_4', ha='left', va='center', fontsize=12.5, fontweight='bold', color='#000000')
fig.text(436 / W, 1 - 25 / H, 'BF_1 und 2 (178,7°, 20°, 4°)', ha='center', va='center', fontsize=12.5,
         color='#262626')
fig.text(431 / W, 1 - 50 / H, 'Zeitabstand:  5 min', ha='center', va='center', fontsize=12.5, color='#262626')
fig.text(836 / W, 1 - 26 / H, 'Reale Ausrichtung:  189,6°', ha='right', va='center', fontsize=12.5,
         color='#262626')
fig.text(832 / W, 1 - 50 / H, 'Reale Neigung:   20,3°', ha='right', va='center', fontsize=12.5,
         color='#262626')

fig.add_artist(Line2D([0, 1], [1 - 5 / H, 1 - 5 / H], color='#d9d9d9', lw=1.0, transform=fig.transFigure))

leg = fig.legend(handles=handles, loc='upper left', bbox_to_anchor=(916 / W, 1 - 17 / H), borderaxespad=0,
                 fontsize=11.6, frameon=True, fancybox=False, edgecolor='#8c8c8c', labelspacing=1.33,
                 handlelength=2.0, handletextpad=0.2, borderpad=0.8, labelcolor='#595959')
leg.get_frame().set_linewidth(1.0)

fig.savefig('out.png', dpi=100)
